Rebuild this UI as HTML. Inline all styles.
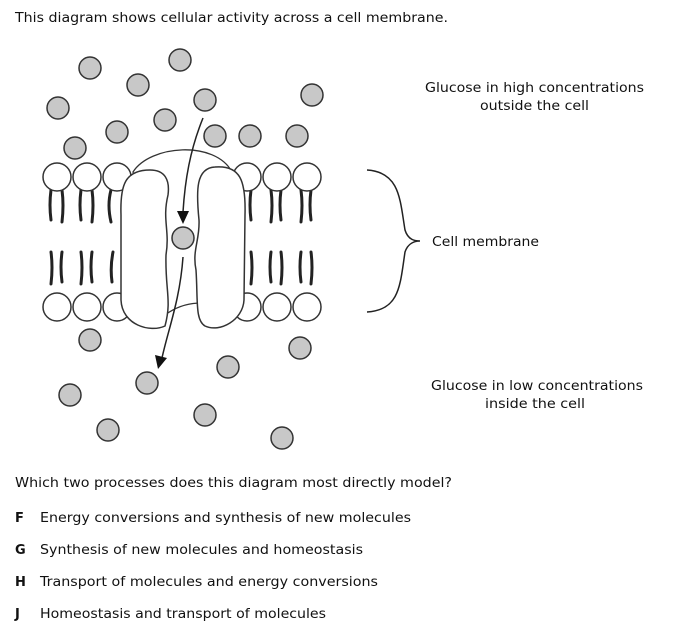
<!DOCTYPE html>
<html><head><style>body{margin:0;background:#fff}svg{display:block}</style></head>
<body>
<svg width="676" height="643" viewBox="0 0 676 643" xmlns="http://www.w3.org/2000/svg" font-family="DejaVu Sans, Verdana, sans-serif" font-size="13" fill="#111">
<text x="15" y="22" textLength="433" lengthAdjust="spacingAndGlyphs">This diagram shows cellular activity across a cell membrane.</text>
<text x="425" y="92" textLength="219" lengthAdjust="spacingAndGlyphs">Glucose in high concentrations</text>
<text x="480" y="110" textLength="109" lengthAdjust="spacingAndGlyphs">outside the cell</text>
<text x="432" y="246" textLength="107" lengthAdjust="spacingAndGlyphs">Cell membrane</text>
<text x="431" y="390" textLength="212" lengthAdjust="spacingAndGlyphs">Glucose in low concentrations</text>
<text x="485" y="408" textLength="100" lengthAdjust="spacingAndGlyphs">inside the cell</text>
<text x="15" y="487" textLength="437" lengthAdjust="spacingAndGlyphs">Which two processes does this diagram most directly model?</text>
<g font-weight="bold"><text x="15" y="522">F</text><text x="15" y="554">G</text><text x="15" y="586">H</text><text x="15" y="618">J</text></g>
<text x="40" y="522" textLength="371" lengthAdjust="spacingAndGlyphs">Energy conversions and synthesis of new molecules</text>
<text x="40" y="554" textLength="323" lengthAdjust="spacingAndGlyphs">Synthesis of new molecules and homeostasis</text>
<text x="40" y="586" textLength="338" lengthAdjust="spacingAndGlyphs">Transport of molecules and energy conversions</text>
<text x="40" y="618" textLength="286" lengthAdjust="spacingAndGlyphs">Homeostasis and transport of molecules</text>

<g stroke="#222" stroke-width="3" fill="none" stroke-linecap="round">
<path d="M51 190 q-2 15 0 30 M62 190 q2 15 0 32 M81 190 q-2 15 0 30 M92 190 q2 15 0 32 M111 190 q-4 15 0 32"/>
<path d="M51 252 q2 15 0 32 M62 252 q-2 15 0 30 M81 252 q2 15 0 32 M92 252 q-2 15 0 30 M113 252 q-3 15 -1 30"/>
<path d="M241 190 q2 15 0 32 M251 190 q-2 15 0 30 M271 190 q2 15 0 32 M281 190 q-2 15 0 30 M301 190 q2 15 0 32 M311 190 q-2 15 0 30"/>
<path d="M241 252 q-2 15 0 30 M251 252 q2 15 0 32 M271 252 q-2 15 0 30 M281 252 q2 15 0 32 M301 252 q-2 15 0 30 M311 252 q2 15 0 32"/>
</g>
<g stroke="#333" stroke-width="1.5" fill="#fff">
<circle cx="57" cy="177" r="14"/><circle cx="87" cy="177" r="14"/><circle cx="117" cy="177" r="14"/>
<circle cx="247" cy="177" r="14"/><circle cx="277" cy="177" r="14"/><circle cx="307" cy="177" r="14"/>
<circle cx="57" cy="307" r="14"/><circle cx="87" cy="307" r="14"/><circle cx="117" cy="307" r="14"/>
<circle cx="247" cy="307" r="14"/><circle cx="277" cy="307" r="14"/><circle cx="307" cy="307" r="14"/>
<path d="M133 172 C150 145 215 140 232 172 L230 310 C210 300 185 300 165 315 Z" stroke-width="1.3"/>
<path d="M150 170 C125 170 120 185 121 215 L121 300 C122 325 150 333 165 326 C172 300 165 290 166 255 C170 230 162 220 168 195 C170 180 165 170 150 170 Z"/>
<path d="M215 167 C240 165 246 180 245 215 L244 300 C243 320 220 333 205 326 C195 320 198 300 196 270 C192 250 200 240 199 220 C196 190 196 168 215 167 Z"/>
</g>
<g stroke="#333" stroke-width="1.5" fill="#c8c8c8">
<circle cx="90" cy="68" r="11"/><circle cx="180" cy="60" r="11"/><circle cx="138" cy="85" r="11"/><circle cx="205" cy="100" r="11"/><circle cx="312" cy="95" r="11"/><circle cx="58" cy="108" r="11"/><circle cx="165" cy="120" r="11"/><circle cx="117" cy="132" r="11"/><circle cx="75" cy="148" r="11"/><circle cx="215" cy="136" r="11"/><circle cx="250" cy="136" r="11"/><circle cx="297" cy="136" r="11"/><circle cx="183" cy="238" r="11"/><circle cx="90" cy="340" r="11"/><circle cx="300" cy="348" r="11"/><circle cx="228" cy="367" r="11"/><circle cx="147" cy="383" r="11"/><circle cx="70" cy="395" r="11"/><circle cx="205" cy="415" r="11"/><circle cx="108" cy="430" r="11"/><circle cx="282" cy="438" r="11"/>
</g>
<g stroke="#222" stroke-width="1.5" fill="none">
<path d="M203 118 C190 150 185 180 183 212"/>
<path d="M183 257 C180 300 168 330 162 358"/>
<path d="M367 170 C400 172 400 200 405 230 C408 240 415 241 420 241 C415 241 408 243 405 252 C400 285 400 310 367 312"/>
</g>
<path d="M177 211 L189 211 L183 224 Z" fill="#111"/>
<path d="M155 355 L167 358 L158 369 Z" fill="#111"/>
</svg>
</body></html>
